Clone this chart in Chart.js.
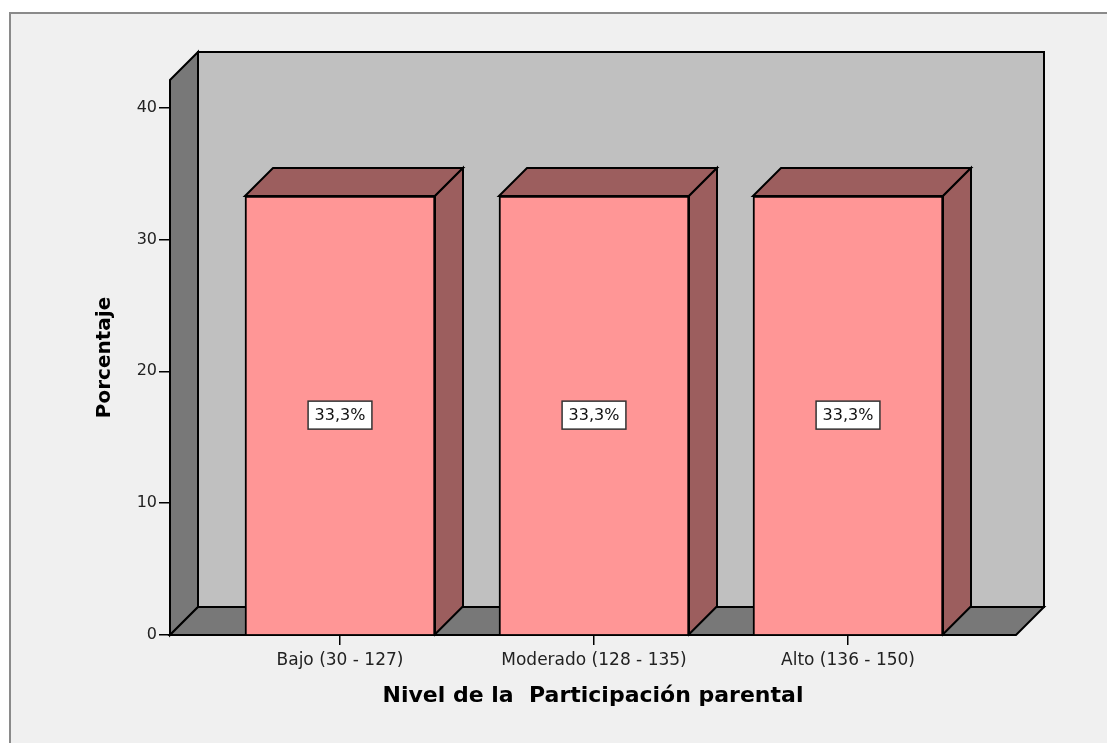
<!DOCTYPE html>
<html>
<head>
<meta charset="utf-8">
<title>Nivel de la Participación parental</title>
<script src="https://cdn.jsdelivr.net/npm/chart.js@4.4.1/dist/chart.umd.min.js"></script>
<style>
    body { margin: 0; background: #fff; }
    canvas { display: block; }
</style>
</head>
<body>
<canvas id="chart" width="1107" height="743"></canvas>
<script>
// datos
const categories = ['Bajo (30 - 127)', 'Moderado (128 - 135)', 'Alto (136 - 150)'];
const percentages = [33.3, 33.3, 33.3];
const yTicks = [0, 10, 20, 30, 40];
const yTitle = 'Porcentaje';
const xTitle = 'Nivel de la  Participación parental';

const DEPTH = 28;

function poly(ctx, pts, fill) {
    ctx.beginPath();
    ctx.moveTo(pts[0][0], pts[0][1]);
    pts.slice(1).forEach(p => ctx.lineTo(p[0], p[1]));
    ctx.closePath();
    ctx.fillStyle = fill;
    ctx.fill();
    ctx.stroke();
}

// caja 3D al estilo SPSS
const spss3d = {
    id: 'spss3d',
    beforeDraw(chart) {
        const ctx = chart.ctx;
        ctx.save();
        ctx.fillStyle = '#fff';
        ctx.fillRect(0, 0, chart.width, chart.height);
        ctx.fillStyle = '#f0f0f0';
        ctx.fillRect(10, 13, chart.width - 10, chart.height - 13);
        ctx.strokeStyle = '#8a8a8a';
        ctx.lineWidth = 2;
        ctx.beginPath();
        ctx.moveTo(10, chart.height);
        ctx.lineTo(10, 13);
        ctx.lineTo(chart.width, 13);
        ctx.stroke();
        ctx.restore();
    },
    beforeDatasetsDraw(chart) {
        const {ctx, chartArea} = chart;
        const {left, right, top, bottom} = chartArea;
        const d = DEPTH;
        ctx.save();
        ctx.lineWidth = 2;
        ctx.strokeStyle = '#000';
        ctx.lineJoin = 'miter';
        poly(ctx, [[left + d, top - d], [right + d, top - d], [right + d, bottom - d], [left + d, bottom - d]], '#c0c0c0');
        poly(ctx, [[left, top], [left + d, top - d], [left + d, bottom - d], [left, bottom]], '#787878');
        poly(ctx, [[left, bottom], [left + d, bottom - d], [right + d, bottom - d], [right, bottom]], '#787878');
        ctx.restore();
    },
    afterDatasetsDraw(chart) {
        const ctx = chart.ctx;
        const d = DEPTH;
        const meta = chart.getDatasetMeta(0);
        ctx.save();
        ctx.lineWidth = 2;
        ctx.strokeStyle = '#000';
        meta.data.forEach((bar, i) => {
            const {x, y, base, width} = bar.getProps(['x', 'y', 'base', 'width'], true);
            const l = x - width / 2, r = x + width / 2;
            poly(ctx, [[l, y], [l + d, y - d], [r + d, y - d], [r, y]], '#9c5e5e');
            poly(ctx, [[r, y], [r + d, y - d], [r + d, base - d], [r, base]], '#9c5e5e');

            const txt = percentages[i].toFixed(1).replace('.', ',') + '%';
            ctx.font = '16px "DejaVu Sans"';
            const tw = ctx.measureText(txt).width;
            const cy = (y + base) / 2;
            const bw = tw + 13, bh = 28;
            ctx.fillStyle = '#fff';
            ctx.fillRect(x - bw / 2, cy - bh / 2, bw, bh);
            ctx.lineWidth = 1.5;
            ctx.strokeStyle = '#333';
            ctx.strokeRect(x - bw / 2, cy - bh / 2, bw, bh);
            ctx.fillStyle = '#111';
            ctx.textAlign = 'center';
            ctx.textBaseline = 'middle';
            ctx.fillText(txt, x, cy + 1);
            ctx.lineWidth = 2;
            ctx.strokeStyle = '#000';
        });
        ctx.restore();
    }
};

Chart.defaults.font.family = '"DejaVu Sans", sans-serif';

const ctx = document.getElementById('chart').getContext('2d');
new Chart(ctx, {
    type: 'bar',
    data: {
        datasets: [{
            label: yTitle,
            data: percentages.map((v, i) => ({x: i, y: v})),
            backgroundColor: '#ff9696',
            borderColor: '#000',
            borderWidth: 2,
            barThickness: 190
        }]
    },
    options: {
        responsive: false,
        devicePixelRatio: 1,
        animation: false,
        layout: { padding: { top: 80, right: 91, left: 0, bottom: 0 } },
        plugins: { legend: { display: false }, tooltip: { enabled: false } },
        scales: {
            x: {
                type: 'linear',
                offset: false,
                min: -0.6693,
                max: 2.6614,
                afterBuildTicks: s => { s.ticks = categories.map((c, i) => ({value: i})); },
                afterFit: s => { s.height = 108; },
                grid: { offset: false, drawOnChartArea: false, tickLength: 10, color: '#000', lineWidth: 1.5 },
                border: { display: false },
                ticks: {
                    color: '#222', font: { size: 17 }, padding: 5,
                    maxRotation: 0, autoSkip: false,
                    callback: v => categories[v]
                },
                title: {
                    display: true, text: xTitle, color: '#000',
                    font: { size: 22, weight: 'bold' },
                    padding: { top: 4, bottom: 34 }
                }
            },
            y: {
                min: 0,
                max: 42.1,
                afterBuildTicks: s => { s.ticks = yTicks.map(v => ({value: v})); },
                afterFit: s => { s.width = 170; },
                grid: { drawOnChartArea: false, tickLength: 11, color: '#000', lineWidth: 1.5 },
                border: { display: false },
                ticks: { color: '#222', font: { size: 16 }, padding: 2 },
                title: {
                    display: true, text: yTitle, color: '#000',
                    font: { size: 20, weight: 'bold' },
                    padding: { top: 93, bottom: 0 }
                }
            }
        }
    },
    plugins: [spss3d]
});
</script>
</body>
</html>
